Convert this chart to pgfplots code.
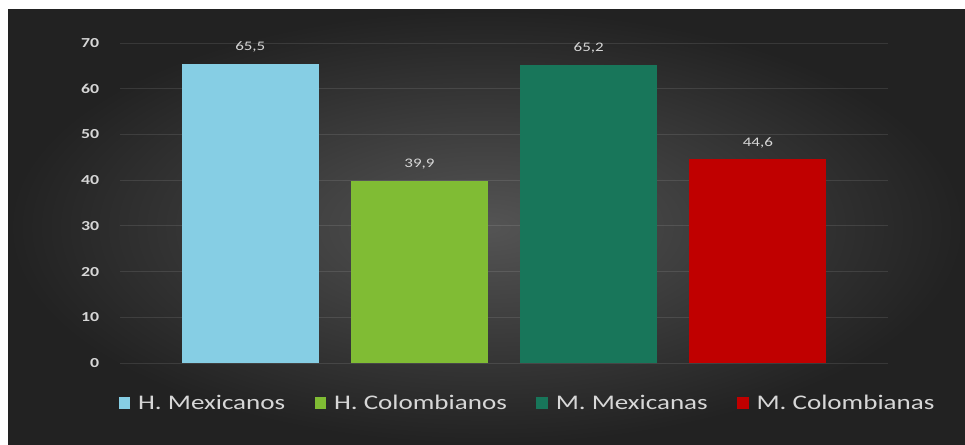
\documentclass[border=0pt]{standalone}
\usepackage{fontspec}
\setmainfont[FakeStretch=1.3]{Carlito}
\usepackage{pgfplots}
\pgfplotsset{compat=1.18}
\definecolor{cblue}{RGB}{134,206,228}
\definecolor{cgreen}{RGB}{128,188,52}
\definecolor{cteal}{RGB}{24,118,90}
\definecolor{cred}{RGB}{192,0,0}
\definecolor{txt}{RGB}{215,215,215}
\begin{document}
\begin{tikzpicture}[x=0.75pt,y=0.75pt]
\fill[white] (0,0) rectangle (965,444);
\shade[inner color={rgb,255:red,84;green,84;blue,84}, outer color={rgb,255:red,34;green,34;blue,34}] (8,0) rectangle (965,434);
\begin{axis}[
  at={(90pt,60.75pt)}, anchor=south west,
  scale only axis, width=576.15pt, height=240pt,
  xmin=-0.77, xmax=3.77, ymin=0, ymax=70,
  xtick=\empty, ytick={0,10,...,70},
  axis line style={draw=none}, tick style={draw=none},
  ymajorgrids, grid style={white, opacity=0.10, line width=0.6pt},
  /pgf/number format/assume math mode=true,
  yticklabel style={font=\fontsize{10.3}{12}\selectfont\bfseries, text=txt, xshift=-12pt},
  ybar, bar width=102.75pt,
  nodes near coords,
  nodes near coords style={font=\fontsize{9.8}{11}\selectfont, text=txt, yshift=5pt,
    /pgf/number format/.cd, fixed, fixed zerofill, precision=1, use comma, assume math mode=true},
  legend columns=4,
  legend style={at={(0.531,-0.125)}, anchor=center, draw=none, fill=none,
    text=txt, font=\fontsize{15.6}{18}\selectfont,
    /tikz/every odd column/.append style={column sep=4pt},
    /tikz/every even column/.append style={column sep=20pt}},
  legend image code/.code={\fill[#1, draw=none] (0pt,-4.3pt) rectangle (8.6pt,4.3pt);},
]
\addplot[fill=cblue, draw=none, bar shift=0pt] coordinates {(0,65.5)};
\addlegendentry{H. Mexicanos}
\addplot[fill=cgreen, draw=none, bar shift=0pt] coordinates {(1,39.9)};
\addlegendentry{H. Colombianos}
\addplot[fill=cteal, draw=none, bar shift=0pt] coordinates {(2,65.2)};
\addlegendentry{M. Mexicanas}
\addplot[fill=cred, draw=none, bar shift=0pt] coordinates {(3,44.6)};
\addlegendentry{M. Colombianas}
\end{axis}
\end{tikzpicture}
\end{document}
